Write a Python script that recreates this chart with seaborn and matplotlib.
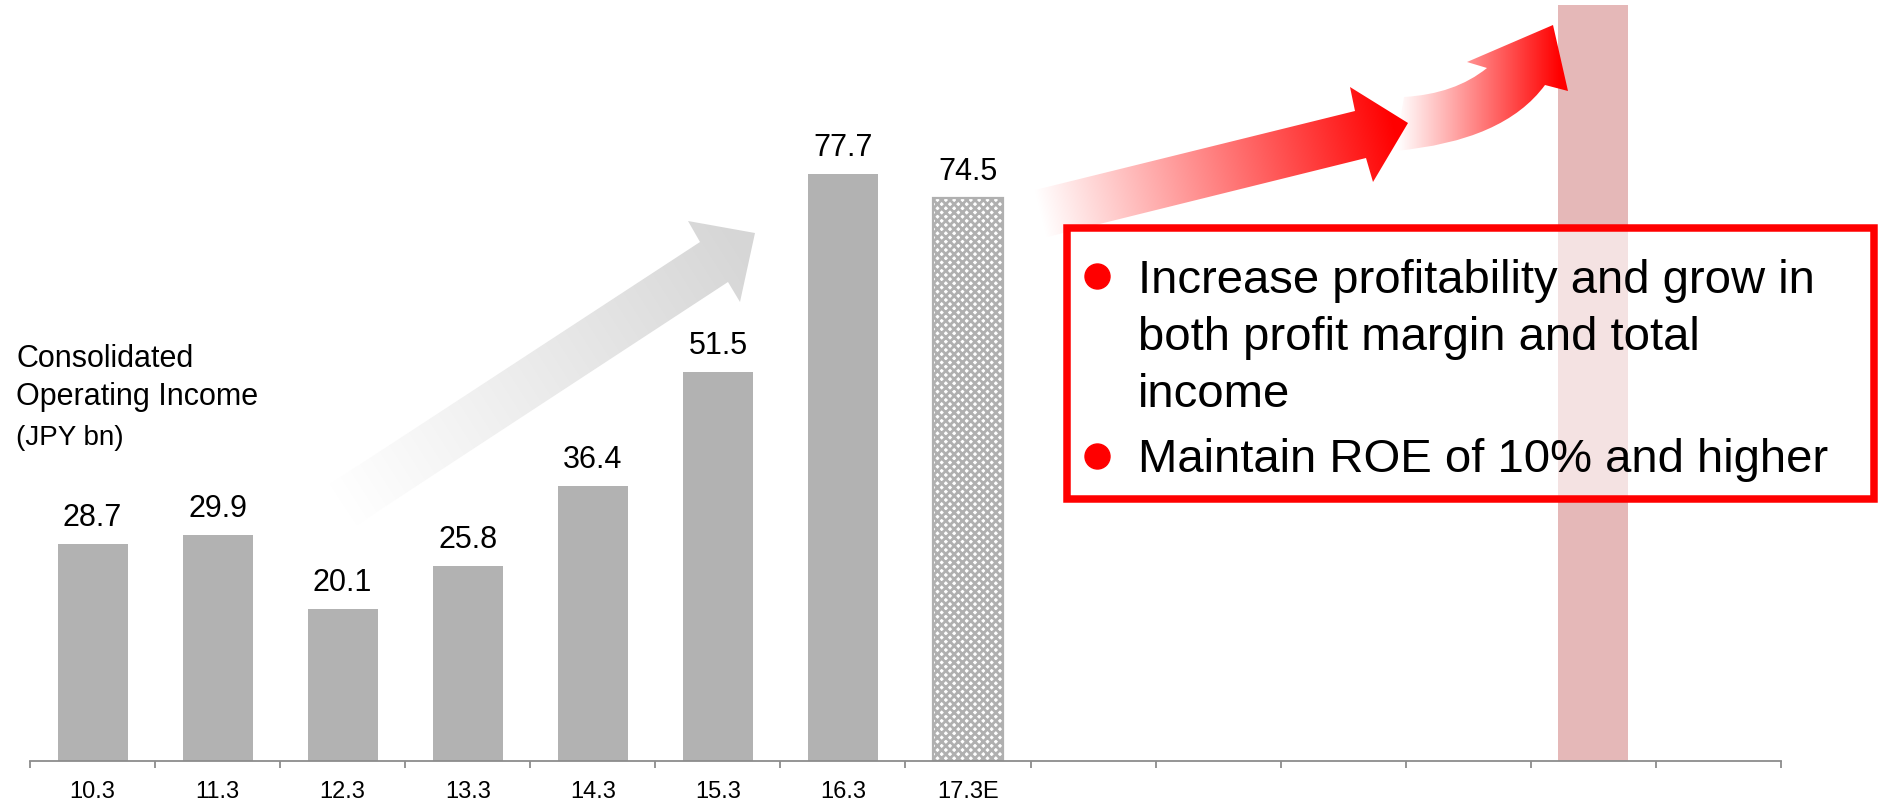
import numpy as np
import pandas as pd
import matplotlib
matplotlib.use("Agg")
import matplotlib.pyplot as plt
from matplotlib.patches import Rectangle, PathPatch
from matplotlib.path import Path
import seaborn as sns

# ---------------- data ----------------
categories = ["10.3", "11.3", "12.3", "13.3", "14.3", "15.3", "16.3", "17.3E"]
income = [28.7, 29.9, 20.1, 25.8, 36.4, 51.5, 77.7, 74.5]
kinds = ["actual", "actual", "actual", "actual", "actual", "actual", "actual", "forecast"]
target_value = 100
target_slot = 12
n_slots = 14
axis_title = ["Consolidated", "Operating Income", "(JPY bn)"]
bullet_1 = ["Increase profitability and grow in", "both profit margin and total", "income"]
bullet_2 = ["Maintain ROE of 10% and higher"]

# ---------------- style ----------------
sns.set_style("white")
plt.rcParams["font.family"] = ["Liberation Sans", "DejaVu Sans"]
plt.rcParams["hatch.linewidth"] = 2.0

W, H = 1881, 803
fig = plt.figure(figsize=(W / 100, H / 100), dpi=100)
ax = fig.add_axes([30 / W, 41 / H, 1751 / W, 756 / H])

df = pd.DataFrame({
    "pos": list(range(len(categories))) + [target_slot],
    "value": income + [target_value],
    "kind": kinds + ["target"],
})
palette = {"actual": "#b2b2b2", "forecast": "#ffffff", "target": "#e5b8b8"}
sns.barplot(data=df, x="pos", y="value", hue="kind", palette=palette,
            native_scale=True, width=0.56, dodge=False, saturation=1,
            legend=False, ax=ax, linewidth=0)

for p in ax.patches:
    if abs(p.get_height() - income[-1]) < 1e-6:
        p.set_hatch("xxxx")
        p.set_edgecolor("#b0b0b0")
        p.set_linewidth(1.6)

ax.set_xlim(-0.5, n_slots - 0.5)
ax.set_ylim(0, 100)
ax.set_xticks(range(len(categories)))
ax.set_xticklabels(categories, fontsize=17)
ax.tick_params(axis="x", which="major", length=0, pad=13.5, colors="black")
ax.set_xticks(np.arange(-0.5, n_slots, 1.0), minor=True)
ax.tick_params(axis="x", which="minor", bottom=True, length=5, width=1.3,
               color="#8c8c8c", direction="out")
ax.set_yticks([])
ax.set_xlabel("")
ax.set_ylabel("")
for s in ["left", "right", "top"]:
    ax.spines[s].set_visible(False)
ax.spines["bottom"].set_color("#8c8c8c")
ax.spines["bottom"].set_linewidth(1.3)

for i, v in enumerate(income):
    ax.annotate(f"{v:.1f}", (i, v), xytext=(0, 13.7), textcoords="offset points",
                ha="center", va="baseline", fontsize=22, color="black")

# ---------------- overlay (pixel coordinates) ----------------
ov = fig.add_axes([0, 0, 1, 1])
ov.patch.set_alpha(0)
ov.axis("off")


def gradient_fill(axis, path, p0, p1, c0, c1, z):
    patch = PathPatch(path, facecolor="none", edgecolor="none")
    axis.add_patch(patch)
    v = path.vertices
    xmin, xmax = v[:, 0].min() - 2, v[:, 0].max() + 2
    ymin, ymax = v[:, 1].min() - 2, v[:, 1].max() + 2
    xs = np.linspace(xmin, xmax, int(xmax - xmin) + 1)
    ys = np.linspace(ymin, ymax, int(ymax - ymin) + 1)
    X, Y = np.meshgrid(xs, ys)
    d = np.array(p1, float) - np.array(p0, float)
    t = ((X - p0[0]) * d[0] + (Y - p0[1]) * d[1]) / (d @ d)
    t = np.clip(t, 0, 1)[..., None]
    c0 = np.array(c0, float)
    c1 = np.array(c1, float)
    img = c0 * (1 - t) + c1 * t
    im = axis.imshow(img, extent=(xmin, xmax, ymax, ymin), origin="upper",
                     interpolation="bilinear", aspect="auto", zorder=z)
    im.set_clip_path(patch)


white = (1, 1, 1)

# gray arrow
g_verts = [(330, 485), (700, 243), (688, 222), (755, 234), (740, 303), (728, 283), (357, 526), (330, 485)]
g_path = Path(g_verts, [Path.MOVETO] + [Path.LINETO] * 6 + [Path.CLOSEPOLY])
gradient_fill(ov, g_path, (343, 505), (745, 250), white, (0.84, 0.84, 0.84), 1)

# curved red arrow
c_verts = [(1404, 98), (1455, 95), (1487, 69), (1467, 63), (1553, 26), (1568, 92),
           (1545, 86), (1504, 142), (1395, 152), (1404, 98)]
c_codes = [Path.MOVETO, Path.CURVE3, Path.CURVE3, Path.LINETO, Path.LINETO, Path.LINETO,
           Path.LINETO, Path.CURVE3, Path.CURVE3, Path.CLOSEPOLY]
c_path = Path(c_verts, c_codes)
gradient_fill(ov, c_path, (1398, 0), (1560, 0), white, (1, 0, 0), 2)

# straight red arrow
r_verts = [(1035, 191), (1355, 112), (1350, 88), (1408, 124), (1373, 183), (1366, 159), (1047, 238), (1035, 191)]
r_path = Path(r_verts, [Path.MOVETO] + [Path.LINETO] * 6 + [Path.CLOSEPOLY])
gradient_fill(ov, r_path, (1040, 214), (1395, 128), white, (1, 0, 0), 3)

# red message box
ov.add_patch(Rectangle((1067, 229), 1874 - 1067, 500 - 229, linewidth=5.4,
                       edgecolor="#ff0000", facecolor=(1, 1, 1, 0.6), zorder=4))
ov.plot([1097, 1097], [277, 457], "o", ms=18, color="#ff0000", zorder=5)
for txt, yb in zip(bullet_1 + bullet_2, [293, 350, 407, 472]):
    ov.text(1138, yb, txt, fontsize=34, ha="left", va="baseline", color="black", zorder=6)

# axis title
for txt, yb, fs in zip(axis_title, [367, 405, 445], [22, 22, 20]):
    ov.text(16, yb, txt, fontsize=fs, ha="left", va="baseline", color="black", zorder=6)

ov.set_xlim(0, W)
ov.set_ylim(H, 0)

fig.savefig("out.png", dpi=100)
